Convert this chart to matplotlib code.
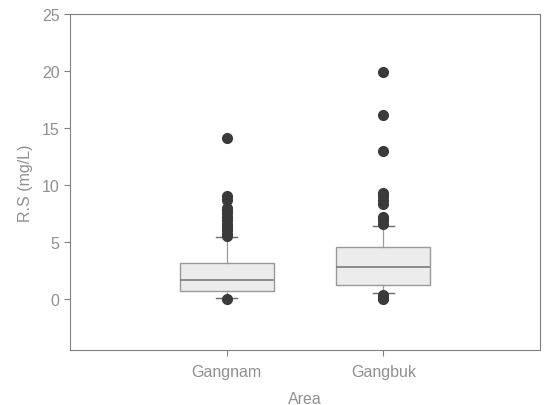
import matplotlib.pyplot as plt

areas = ['Gangnam', 'Gangbuk']
q1 = [0.7, 1.23]
med = [1.67, 2.8]
q3 = [3.15, 4.5]
whislo = [0.08, 0.5]
whishi = [5.45, 6.4]
fliers = [
    [14.1, 9.0, 8.7, 8.0, 7.8, 7.5, 7.2, 6.9, 6.6, 6.3, 6.0, 5.7, 5.5, 0.0],
    [19.9, 16.1, 13.0, 9.3, 9.0, 8.7, 8.3, 7.2, 6.9, 6.6, 0.3, 0.1, 0.0],
]

plt.rcParams['font.family'] = ['Liberation Sans', 'DejaVu Sans']
txt = '#909090'
line = '#9a9a9a'

stats = []
for i in range(len(areas)):
    stats.append(dict(label=areas[i], q1=q1[i], med=med[i], q3=q3[i],
                      whislo=whislo[i], whishi=whishi[i], fliers=fliers[i]))

fig = plt.figure(figsize=(5.44, 4.06), dpi=100)
ax = fig.add_axes([70/544, 1 - 351/406, 470/544, 336/406])

ax.bxp(stats, positions=[1, 2], widths=0.6, patch_artist=True,
       capwidths=0.13,
       boxprops=dict(facecolor='#ececec', edgecolor=line, linewidth=1),
       medianprops=dict(color='#7a7a7a', linewidth=1.2),
       whiskerprops=dict(color=line, linewidth=0.9),
       capprops=dict(color='#6a6a6a', linewidth=1),
       flierprops=dict(marker='o', markersize=7, markerfacecolor='#3a3a3a',
                       markeredgecolor='#3a3a3a'))

ax.set_xlim(0, 3)
ax.set_ylim(-4.5, 25)
ax.set_yticks([0, 5, 10, 15, 20, 25])
for s in ax.spines.values():
    s.set_color('#808080')
    s.set_linewidth(0.8)
ax.tick_params(colors='#808080', labelcolor=txt, labelsize=11.5, length=4, width=0.8)
ax.tick_params(axis='x', pad=6)
ax.set_ylabel('R.S (mg/L)', color=txt, fontsize=11.5, labelpad=6)
ax.set_xlabel('Area', color=txt, fontsize=11.5, labelpad=9)

fig.savefig('out.png', dpi=100)
